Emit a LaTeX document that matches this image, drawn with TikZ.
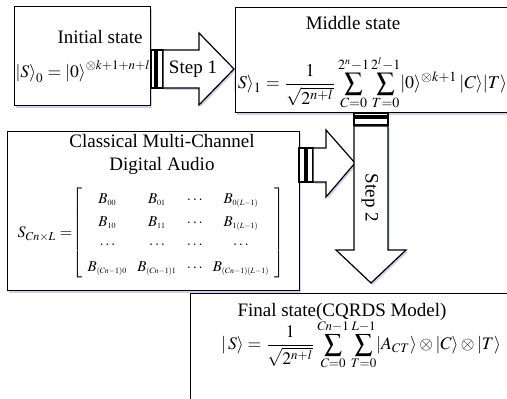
\documentclass[tikz,border=0pt]{standalone}
\usepackage{mathptmx}
\usepackage{fontspec}
\setmainfont{Liberation Serif}
\usetikzlibrary{shadows}
\DeclareMathSizes{7.5}{7.5}{4}{3}

\begin{document}
\begin{tikzpicture}[x=0.5pt, y=-0.5pt, line width=0.6pt,
    box/.style={draw, fill=white, anchor=north west, inner sep=0pt,
        drop shadow={shadow xshift=0.8pt, shadow yshift=-1pt, fill=blue!50!gray, opacity=0.25}},
    blockarrow/.style={draw, fill=white, line join=miter,
        drop shadow={shadow xshift=0.8pt, shadow yshift=-1pt, fill=blue!50!gray, opacity=0.25}},
    stripe/.style={draw, fill=white},
    txt/.style={font=\fontsize{9.5}{11}\selectfont, inner sep=0pt},
    eq/.style={font=\fontsize{9}{10}\selectfont, inner sep=0pt}]
        \clip (0,0) rectangle (507,399);
        %Initial state
        \node[box, minimum width=68pt, minimum height=49.5pt] (init) at (14,6) {};
        \node[txt] (inittitle) at (100,37) {Initial state};
        \node[eq, font=\fontsize{8.8}{10}\selectfont, anchor=west] (initeq) at (15,72) {$\left|S\right\rangle_0=\left|0\right\rangle^{\otimes k+1+n+l}$};
        %Middle state
        \node[box, minimum width=140pt, minimum height=52.5pt] (mid) at (235,7) {};
        \node[txt] (midtitle) at (353,23) {Middle state};
        \node[eq] (mideq) at (370,83) {$\displaystyle |S\rangle_1=\frac{1}{\sqrt{2^{n+l}}}\sum_{C=0}^{2^n-1}\sum_{T=0}^{2^l-1}\!|0\rangle^{\otimes k+1}\,|C\rangle|T\rangle$};
        %Classical audio
        \node[box, minimum width=146pt, minimum height=79.5pt] (audio) at (7,131) {};
        \node[txt, align=center] (audiotitle) at (162,154) {Classical Multi-Channel\\[0.5pt]Digital Audio};
        \node[eq, font=\fontsize{8}{9}\selectfont, anchor=east] (audiolabel) at (73,234) {$S_{Cn\times L}=$};
        \node[font=\fontsize{7.5}{9}\selectfont, inner sep=0pt, anchor=west] (audiomat) at (72,233)
            {$\renewcommand{\arraystretch}{1.25}\setlength{\arraycolsep}{2.5pt}
            \left[\begin{array}{cccc}
            B_{00} & B_{01} & \cdots & B_{0(L-1)}\\
            B_{10} & B_{11} & \cdots & B_{1(L-1)}\\
            \cdots & \cdots & \cdots & \cdots\\
            B_{(Cn-1)0} & B_{(Cn-1)1} & \cdots & B_{(Cn-1)(L-1)}
            \end{array}\right]$};
        %Final state
        \node[box, minimum width=165pt, minimum height=58pt] (final) at (190,293) {};
        \node[txt] (finaltitle) at (342,312) {Final state(CQRDS Model)};
        \node[eq, font=\fontsize{8.8}{10}\selectfont] (finaleq) at (361,345) {$\displaystyle |\,S\rangle=\frac{1}{\sqrt{2^{n+l}}}\sum_{C=0}^{Cn-1}\sum_{T=0}^{L-1}\!|A_{CT}\rangle\otimes|C\rangle\otimes|T\rangle$};
        %Step 1
        \draw[stripe] (151,50) rectangle (155,88);
        \draw[stripe] (157,50) rectangle (163,88);
        \draw[blockarrow] (163,50) -- (199,50) -- (199,33) -- (234,69) -- (199,105) -- (199,88) -- (163,88) -- cycle;
        \node[txt] (step1) at (193,69) {Step 1};
        %audio into Step 2
        \draw[stripe] (299,148) rectangle (305,182);
        \draw[stripe] (307,148) rectangle (313,182);
        \draw[blockarrow] (313,148) -- (326,148) -- (326,130) -- (355,163) -- (326,197) -- (326,182) -- (313,182) -- cycle;
        %Step 2
        \draw[stripe] (354,113) rectangle (388,116);
        \draw[stripe] (354,118) rectangle (388,125);
        \draw[blockarrow] (354,126) -- (354,250) -- (336,250) -- (371,283) -- (406,250) -- (388,250) -- (388,126) -- cycle;
        \node[txt, rotate=-90] (step2) at (370,198) {Step 2};
    \end{tikzpicture}
\end{document}
